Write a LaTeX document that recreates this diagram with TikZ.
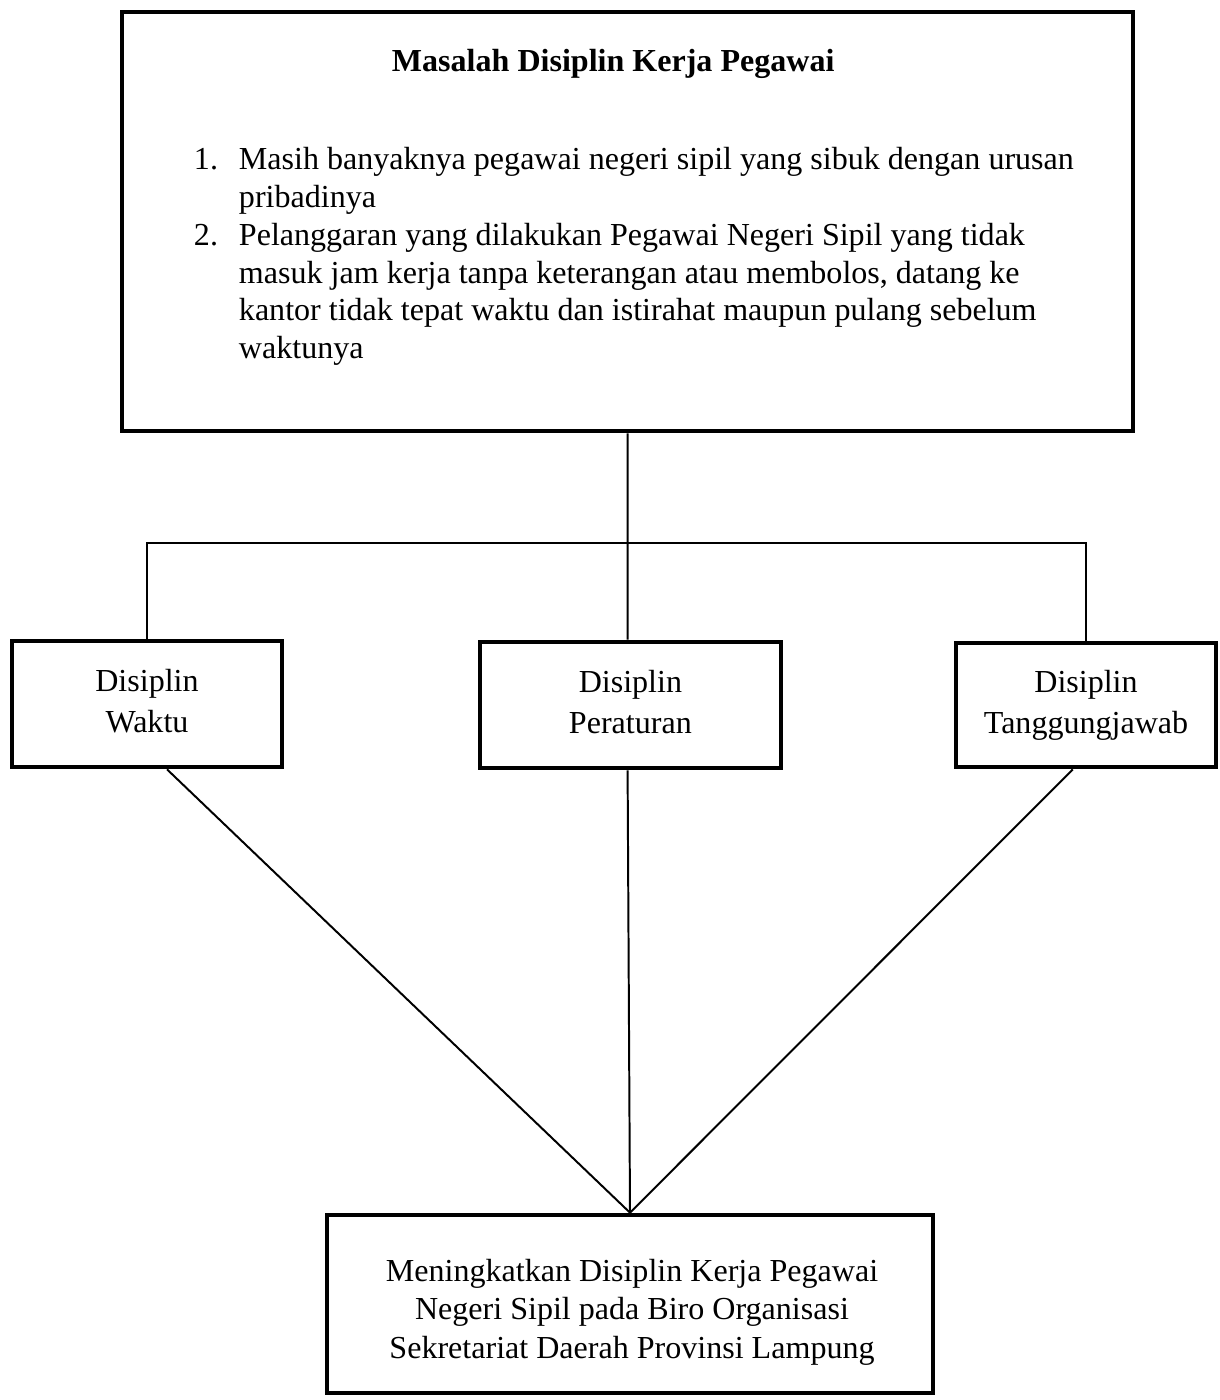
\documentclass[tikz,border=0pt]{standalone}
\usepackage{fontspec}
\setmainfont{Liberation Serif}
\usetikzlibrary{positioning}
\begin{document}
\fontsize{22.5}{27}\selectfont
\begin{tikzpicture}[line width=1.4pt,
    kotak/.style={draw=black, line width=3.3pt, shape=rectangle, inner sep=0pt},
    teks/.style={align=center, inner sep=0pt, font=\fontsize{22.8}{28.5}\selectfont}
]
\useasboundingbox (0,0) rectangle (30.5,-35);
% --- Kotak masalah ---
\node[kotak, minimum width=25.275cm, minimum height=10.475cm] (masalah) at (15.69,-5.54) {};
\node[teks, font=\fontsize{22.8}{27}\selectfont\bfseries] (judul) at (15.33,-1.6) {Masalah Disiplin Kerja Pegawai};
\node[anchor=north west, inner sep=0pt] (daftar) at (4.825,-3.54) {%
  \fontsize{22.8}{27}\selectfont
  \begin{tabular}{@{}p{1.125cm}@{}l@{}}
  1. & Masih banyaknya pegawai negeri sipil yang sibuk dengan urusan\\
     & pribadinya\\
  2. & Pelanggaran yang dilakukan Pegawai Negeri Sipil yang tidak\\
     & masuk jam kerja tanpa keterangan atau membolos, datang ke\\
     & kantor tidak tepat waktu dan istirahat maupun pulang sebelum\\
     & waktunya
  \end{tabular}};
% --- Kotak disiplin ---
\node[kotak, teks, minimum width=6.75cm, minimum height=3.15cm] (waktu) at (3.675,-17.6) {\strut Disiplin\\Waktu\strut};
\node[kotak, teks, minimum width=7.525cm, minimum height=3.15cm] (peraturan) at (15.76,-17.625) {\strut Disiplin\\Peraturan\strut};
\node[kotak, teks, minimum width=6.5cm, minimum height=3.1cm] (tanggung) at (27.15,-17.625) {\strut Disiplin\\Tanggungjawab\strut};
% --- Kotak tujuan ---
\node[kotak, minimum width=15.15cm, minimum height=4.45cm] (tujuan) at (15.75,-32.6) {};
\node[teks, font=\fontsize{22.8}{27.5}\selectfont] (hasil) at (15.8,-32.8) {Meningkatkan Disiplin Kerja Pegawai\\Negeri Sipil pada Biro Organisasi\\Sekretariat Daerah Provinsi Lampung};
% --- Garis cabang ---
\coordinate (cabang) at (15.7,-13.575);
\draw (masalah.south) -- ([xshift=-0.07cm]peraturan.north);
\draw (waktu.north) |- (cabang) -| (tanggung.north);
% --- Garis ke tujuan ---
\draw ([xshift=0.5cm]waktu.south) -- (tujuan.north);
\draw ([xshift=-0.07cm]peraturan.south) -- (tujuan.north);
\draw ([xshift=-0.33cm]tanggung.south) -- (tujuan.north);
\end{tikzpicture}
\end{document}
